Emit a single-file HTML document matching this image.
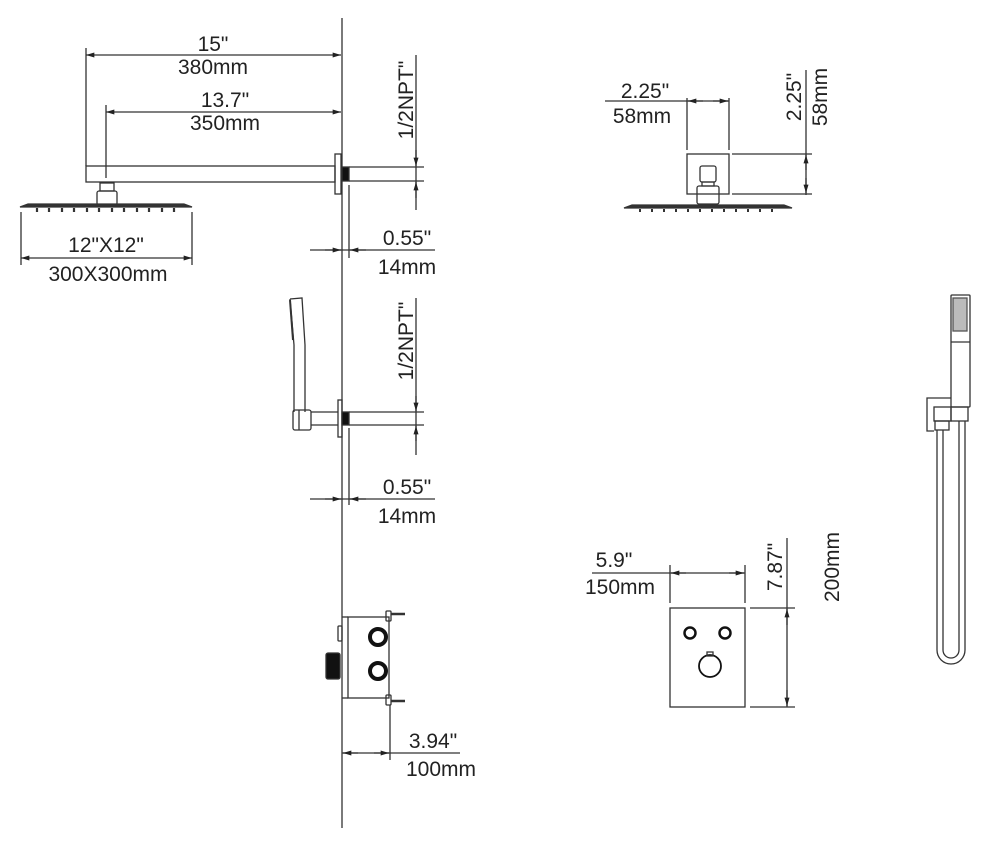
<!DOCTYPE html>
<html><head><meta charset="utf-8"><style>
html,body{margin:0;padding:0;background:#fff;}
svg{display:block;}
text{font-family:"Liberation Sans",Arial,sans-serif;fill:#222;font-size:21px;}
</style></head><body>
<svg width="990" height="846" viewBox="0 0 990 846" xmlns="http://www.w3.org/2000/svg">
<defs>
<marker id="a" viewBox="0 0 10 6" refX="10" refY="3" markerWidth="14" markerHeight="5" markerUnits="userSpaceOnUse" orient="auto-start-reverse"><path d="M0,0L10,3L0,6z" fill="#222"/></marker>
</defs>
<g stroke="#333" stroke-width="1.3" fill="none">
<line x1="342" y1="18" x2="342" y2="828"/>

<line x1="86" y1="48" x2="86" y2="166"/>
<line x1="86" y1="55" x2="341" y2="55" marker-start="url(#a)" marker-end="url(#a)"/>
<line x1="106" y1="105" x2="106" y2="178"/>
<line x1="106" y1="112" x2="341" y2="112" marker-start="url(#a)" marker-end="url(#a)"/>
<rect x="86" y="166" width="249" height="16"/>
<rect x="335" y="154" width="6" height="40"/>
<rect x="342" y="167" width="7" height="14" fill="#111"/>
<line x1="349" y1="167" x2="424" y2="167"/>
<line x1="349" y1="181" x2="424" y2="181"/>
<rect x="100" y="183" width="14" height="8"/>
<rect x="97" y="191" width="20" height="14" rx="2"/>
<path d="M20,207 L28,204 L184,204 L192,207 Z" fill="#333"/>
<path d="M37,208v4M49,208v4M62,208v4M74,208v4M87,208v4M99,208v4M112,208v4M124,208v4M137,208v4M149,208v4M162,208v4M174,208v4" stroke-width="2.2"/>
<line x1="21" y1="212" x2="21" y2="265"/>
<line x1="192" y1="212" x2="192" y2="265"/>
<line x1="21" y1="258" x2="192" y2="258" marker-start="url(#a)" marker-end="url(#a)"/>
<line x1="416" y1="55" x2="416" y2="210"/>
<line x1="416" y1="150" x2="416" y2="166" marker-end="url(#a)"/>
<line x1="416" y1="198" x2="416" y2="182" marker-end="url(#a)"/>
<line x1="349" y1="185" x2="349" y2="258"/>
<line x1="310" y1="250" x2="435" y2="250"/>
<line x1="325" y1="250" x2="341" y2="250" marker-end="url(#a)"/>
<line x1="366" y1="250" x2="350" y2="250" marker-end="url(#a)"/>

<path d="M290,299 L302,298 L305,345 L305,412 M290,299 L294,345 L294,412"/>
<path d="M290,300 L293,340" stroke-width="2"/>
<rect x="293" y="410" width="18" height="20" rx="2"/>
<line x1="299" y1="410" x2="299" y2="430"/>
<line x1="311" y1="412" x2="338" y2="412"/>
<line x1="311" y1="425" x2="338" y2="425"/>
<rect x="338" y="400" width="4" height="37"/>
<rect x="342" y="412" width="7" height="13" fill="#111"/>
<line x1="349" y1="412" x2="424" y2="412"/>
<line x1="349" y1="425" x2="424" y2="425"/>
<line x1="416" y1="298" x2="416" y2="455"/>
<line x1="416" y1="396" x2="416" y2="411" marker-end="url(#a)"/>
<line x1="416" y1="441" x2="416" y2="426" marker-end="url(#a)"/>
<line x1="349" y1="428" x2="349" y2="505"/>
<line x1="310" y1="499" x2="435" y2="499"/>
<line x1="325" y1="499" x2="341" y2="499" marker-end="url(#a)"/>
<line x1="366" y1="499" x2="350" y2="499" marker-end="url(#a)"/>

<rect x="348" y="617" width="41" height="81"/>
<line x1="342" y1="617" x2="348" y2="617"/><line x1="342" y1="698" x2="348" y2="698"/>
<rect x="338" y="626" width="4" height="15" rx="1"/>
<rect x="326" y="653" width="14" height="26" rx="2" fill="#111"/>
<circle cx="378" cy="637" r="8" stroke="#111" stroke-width="4"/>
<circle cx="378" cy="671" r="8" stroke="#111" stroke-width="4"/>
<rect x="386" y="611" width="5" height="10" rx="1"/><line x1="391" y1="614" x2="405" y2="614" stroke-width="2.5"/>
<rect x="386" y="695" width="5" height="10" rx="1"/><line x1="391" y1="701" x2="405" y2="701" stroke-width="2.5"/>
<line x1="390" y1="705" x2="390" y2="760"/>
<line x1="342" y1="753" x2="460" y2="753"/>
<line x1="358" y1="753" x2="343" y2="753" marker-end="url(#a)"/>
<line x1="374" y1="753" x2="389" y2="753" marker-end="url(#a)"/>

<line x1="605" y1="101" x2="729" y2="101"/>
<line x1="703" y1="101" x2="688" y2="101" marker-end="url(#a)"/>
<line x1="713" y1="101" x2="728" y2="101" marker-end="url(#a)"/>
<line x1="687" y1="98" x2="687" y2="150"/>
<line x1="729" y1="98" x2="729" y2="150"/>
<rect x="687" y="154" width="42" height="40"/>
<rect x="700" y="166" width="16" height="16" rx="2"/>
<path d="M702,182h12v4h-12z"/>
<rect x="697" y="186" width="22" height="18" rx="2"/>
<path d="M624,208 L632,205 L784,205 L792,208 Z" fill="#333"/>
<path d="M640,209v3M652,209v3M664,209v3M676,209v3M688,209v3M700,209v3M712,209v3M724,209v3M736,209v3M748,209v3M760,209v3M772,209v3" stroke-width="2"/>
<line x1="806" y1="70" x2="806" y2="195"/>
<line x1="732" y1="154" x2="812" y2="154"/>
<line x1="732" y1="194" x2="812" y2="194"/>
<line x1="806" y1="170" x2="806" y2="155" marker-end="url(#a)"/>
<line x1="806" y1="178" x2="806" y2="193" marker-end="url(#a)"/>

<line x1="592" y1="573" x2="745" y2="573"/>
<line x1="686" y1="573" x2="671" y2="573" marker-end="url(#a)"/>
<line x1="729" y1="573" x2="744" y2="573" marker-end="url(#a)"/>
<line x1="670" y1="565" x2="670" y2="603"/>
<line x1="745" y1="565" x2="745" y2="603"/>
<rect x="670" y="608" width="75" height="99"/>
<circle cx="690" cy="633" r="5.5" stroke="#111" stroke-width="2.5"/>
<circle cx="725" cy="633" r="5.5" stroke="#111" stroke-width="2.5"/>
<circle cx="710" cy="666" r="11" stroke="#111" stroke-width="1.8"/>
<rect x="707" y="652" width="6" height="4"/>
<line x1="787" y1="538" x2="787" y2="707"/>
<line x1="750" y1="608" x2="795" y2="608"/>
<line x1="750" y1="707" x2="795" y2="707"/>
<line x1="787" y1="625" x2="787" y2="609" marker-end="url(#a)"/>
<line x1="787" y1="690" x2="787" y2="706" marker-end="url(#a)"/>

<rect x="951" y="295" width="19" height="112" rx="1"/>
<rect x="953" y="298" width="14" height="33" fill="#bbb" stroke="#555"/>
<line x1="951" y1="342" x2="970" y2="342"/>
<path d="M951,398 H927 V431 H934"/>
<rect x="934" y="407" width="17" height="14"/>
<rect x="951" y="407" width="17" height="14"/>
<rect x="935" y="421" width="14" height="9"/>
<path d="M937,430 V650 A14,14 0 0 0 965,650 V421"/>
<path d="M943,430 V650 A8,8 0 0 0 959,650 V421"/>
</g>

<g>
<text x="213" y="51" text-anchor="middle">15"</text>
<text x="213" y="74" text-anchor="middle">380mm</text>
<text x="225" y="107" text-anchor="middle">13.7"</text>
<text x="225" y="130" text-anchor="middle">350mm</text>
<text x="106" y="252" text-anchor="middle">12"X12"</text>
<text x="108" y="281" text-anchor="middle">300X300mm</text>
<text transform="translate(413,100) rotate(-90)" text-anchor="middle">1/2NPT"</text>
<text x="407" y="245" text-anchor="middle">0.55"</text>
<text x="407" y="274" text-anchor="middle">14mm</text>
<text transform="translate(413,341) rotate(-90)" text-anchor="middle">1/2NPT"</text>
<text x="407" y="494" text-anchor="middle">0.55"</text>
<text x="407" y="523" text-anchor="middle">14mm</text>
<text x="433" y="748" text-anchor="middle">3.94"</text>
<text x="441" y="776" text-anchor="middle">100mm</text>
<text x="645" y="98" text-anchor="middle">2.25"</text>
<text x="642" y="123" text-anchor="middle">58mm</text>
<text transform="translate(801,97) rotate(-90)" text-anchor="middle">2.25"</text>
<text transform="translate(827,97) rotate(-90)" text-anchor="middle">58mm</text>
<text x="614" y="567" text-anchor="middle">5.9"</text>
<text x="620" y="594" text-anchor="middle">150mm</text>
<text transform="translate(782,567) rotate(-90)" text-anchor="middle">7.87"</text>
<text transform="translate(839,567) rotate(-90)" text-anchor="middle">200mm</text>
</g>
</svg>
</body></html>
